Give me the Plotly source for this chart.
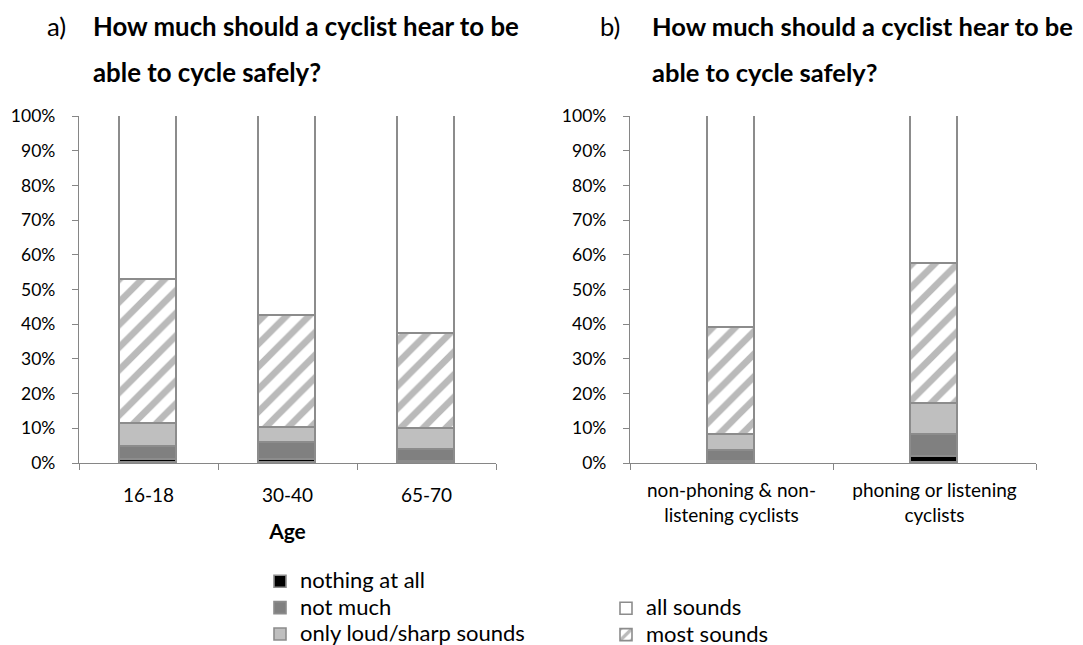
import plotly.graph_objects as go

W, H = 1083, 645
# the page draws the figure 8px in from the top-left corner of the window
OFF = 8


def px(x):
    return (x - OFF) / W


def py(y):
    return 1 - (y - OFF) / H


age_groups = ["16-18", "30-40", "65-70"]
user_groups = ["non-phoning & non-<br>listening cyclists", "phoning or listening<br>cyclists"]

series = ["nothing at all", "not much", "only loud/sharp sounds", "most sounds", "all sounds"]

# percentages (each stack sums to 100)
age_nothing = [0.8, 0.8, 0.3]
age_notmuch = [3.8, 5.0, 3.4]
age_loud = [6.5, 4.3, 6.1]
age_most = [41.7, 32.4, 27.5]
age_all = [47.2, 57.5, 62.7]

user_nothing = [0.4, 1.7]
user_notmuch = [3.2, 6.4]
user_loud = [4.4, 8.9]
user_most = [30.8, 40.3]
user_all = [61.2, 42.7]

age_vals = [age_nothing, age_notmuch, age_loud, age_most, age_all]
user_vals = [user_nothing, user_notmuch, user_loud, user_most, user_all]

colors = ["#000000", "#808080", "#bfbfbf", "#ffffff", "#ffffff"]
legends = ["legend", "legend", "legend", "legend2", "legend2"]
FONT = "Lato"
OUT = "#8c8c8c"
TXT = "#000000"

fig = go.Figure()
for i, name in enumerate(series):
    if name == "most sounds":
        pattern = dict(shape="/", fgcolor="#767676", bgcolor="#ffffff", size=16, solidity=0.42)
    else:
        pattern = dict(shape="")
    label = "<span style='font-size:22px'>" + name + "</span>"
    fig.add_trace(go.Bar(
        x=age_groups, y=[v / 100 for v in age_vals[i]], name=label,
        marker=dict(color=colors[i], line=dict(color=OUT, width=1.6), pattern=pattern),
        width=0.41, xaxis="x", yaxis="y", legendgroup=name, showlegend=True,
        legend=legends[i], hovertemplate=name + ": %{y:.1%}<extra></extra>",
    ))
    fig.add_trace(go.Bar(
        x=user_groups, y=[v / 100 for v in user_vals[i]], name=label,
        marker=dict(color=colors[i], line=dict(color=OUT, width=1.6), pattern=pattern),
        width=0.235, xaxis="x2", yaxis="y2", legendgroup=name, showlegend=False,
        legend=legends[i], hovertemplate=name + ": %{y:.1%}<extra></extra>",
    ))

ydom = [py(463), py(116)]
axis_common = dict(showline=True, linecolor="#868686", linewidth=1.3, ticks="outside",
                   tickcolor="#868686", ticklen=6, tickwidth=1.3, showgrid=False,
                   zeroline=False, automargin=False)
yaxis_common = dict(axis_common, range=[0, 1], dtick=0.1, tickformat=".0%",
                    ticklabelstandoff=13,
                    tickfont=dict(family=FONT, size=17.5, color=TXT))

fig.update_layout(
    width=W, height=H, barmode="stack", bargap=0,
    margin=dict(l=0, r=0, t=0, b=0, autoexpand=False),
    plot_bgcolor="white", paper_bgcolor="white",
    font=dict(family=FONT, color=TXT),
    xaxis=dict(axis_common, domain=[px(79), px(496)], anchor="y", tickson="boundaries",
               ticklabelstandoff=15,
               tickfont=dict(family=FONT, size=19, color=TXT),
               title=dict(text="<b>Age</b>", font=dict(family=FONT, size=21, color=TXT),
                          standoff=19)),
    yaxis=dict(yaxis_common, domain=ydom, anchor="x"),
    xaxis2=dict(axis_common, domain=[px(630), px(1036)], anchor="y2", tickson="boundaries",
                ticklabelstandoff=10,
                tickfont=dict(family=FONT, size=19, color=TXT)),
    yaxis2=dict(yaxis_common, domain=ydom, anchor="x2"),
    legend=dict(x=px(260), y=0, xanchor="left", yanchor="bottom", traceorder="normal",
                font=dict(family=FONT, size=18, color=TXT), bgcolor="rgba(0,0,0,0)",
                tracegroupgap=0),
    legend2=dict(x=px(606), y=0, xanchor="left", yanchor="bottom", traceorder="reversed",
                 font=dict(family=FONT, size=18, color=TXT), bgcolor="rgba(0,0,0,0)",
                 tracegroupgap=0),
)

titles = [
    (45, 26, "a)", 25.8), (91, 26, "<b>How much should a cyclist hear to be</b>", 25.8),
    (91, 72, "<b>able to cycle safely?</b>", 25.8),
    (598, 26, "b)", 25.5), (650, 26, "<b>How much should a cyclist hear to be</b>", 25.5),
    (650, 72, "<b>able to cycle safely?</b>", 25.5),
]
for x, y, t, s in titles:
    fig.add_annotation(x=px(x), y=py(y), xref="paper", yref="paper", text=t,
                       showarrow=False, xanchor="left", yanchor="middle",
                       font=dict(family=FONT, size=s, color=TXT))

fig.write_html("out.html")
